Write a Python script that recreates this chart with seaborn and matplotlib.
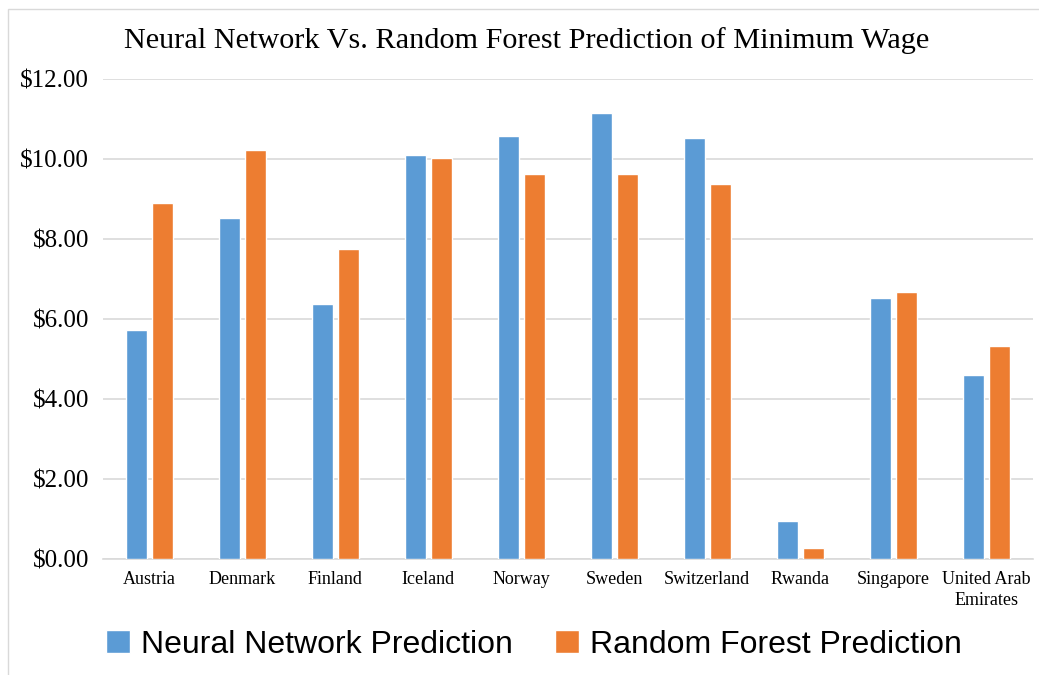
import matplotlib
matplotlib.use("Agg")
import matplotlib.pyplot as plt
from matplotlib.patches import Rectangle, Patch
import seaborn as sns
import pandas as pd

countries = ["Austria", "Denmark", "Finland", "Iceland", "Norway", "Sweden",
             "Switzerland", "Rwanda", "Singapore", "United Arab\nEmirates"]
neural_network = [5.72, 8.52, 6.37, 10.10, 10.57, 11.15, 10.52, 0.95, 6.52, 4.60]
random_forest = [8.90, 10.22, 7.75, 10.02, 9.62, 9.62, 9.37, 0.28, 6.67, 5.32]
series_names = ["Neural Network Prediction", "Random Forest Prediction"]
colors = ["#5B9BD5", "#ED7D31"]
y_ticks = [0, 2, 4, 6, 8, 10, 12]

df = pd.DataFrame({
    "Country": countries * 2,
    "Wage": neural_network + random_forest,
    "Model": [series_names[0]] * len(countries) + [series_names[1]] * len(countries),
})

sns.set_theme(style="white")
plt.rcParams["font.family"] = ["Liberation Serif", "DejaVu Serif"]
plt.rcParams["text.color"] = "black"
plt.rcParams["xtick.color"] = "black"
plt.rcParams["ytick.color"] = "black"

fig = plt.figure(figsize=(10.39, 6.75), dpi=100)
ax = fig.add_axes([0.099, 0.172, 0.895, 0.711])

sns.barplot(data=df, x="Country", y="Wage", hue="Model", palette=colors,
            saturation=1, width=0.56, gap=0.2, edgecolor="white", linewidth=1.0,
            errorbar=None, ax=ax, legend=False, zorder=3)

ax.set_ylim(0, 12)
ax.set_xlim(-0.5, len(countries) - 0.5)
ax.set_yticks(y_ticks)
ax.set_yticklabels([f"${v:.2f}" for v in y_ticks], fontsize=18,
                   family="Liberation Serif", color="black")
ax.set_xticks(range(len(countries)))
ax.set_xticklabels(countries, fontsize=13, family="Liberation Serif",
                   linespacing=1.3, color="black")
ax.tick_params(axis="both", length=0)
ax.tick_params(axis="y", pad=10)
ax.tick_params(axis="x", pad=9)
ax.set_xlabel("")
ax.set_ylabel("")
ax.yaxis.grid(True, color="#D9D9D9", linewidth=1.2, zorder=0)
ax.set_axisbelow(True)
for side in ["left", "right", "top"]:
    ax.spines[side].set_visible(False)
ax.spines["bottom"].set_color("#D9D9D9")
ax.spines["bottom"].set_linewidth(1.2)

fig.text(0.507, 0.94, "Neural Network Vs. Random Forest Prediction of Minimum Wage",
         ha="center", va="center", fontsize=21.8, family="Liberation Serif",
         color="black")

handles = [Patch(facecolor=c, edgecolor="white", label=n)
           for c, n in zip(colors, series_names)]
fig.legend(handles=handles, loc="center", bbox_to_anchor=(0.514, 0.045),
           ncol=2, frameon=False, labelcolor="black",
           prop={"family": "Liberation Sans", "size": 23},
           handlelength=0.75, handleheight=0.75, handletextpad=0.35,
           columnspacing=1.3)

fig.patches.append(Rectangle((8 / 1039, -0.01), 1.2, (675 - 9) / 675 + 0.01,
                             transform=fig.transFigure, fill=False,
                             edgecolor="#D9D9D9", linewidth=1.0))

fig.savefig("out.png", dpi=100, facecolor="white")
